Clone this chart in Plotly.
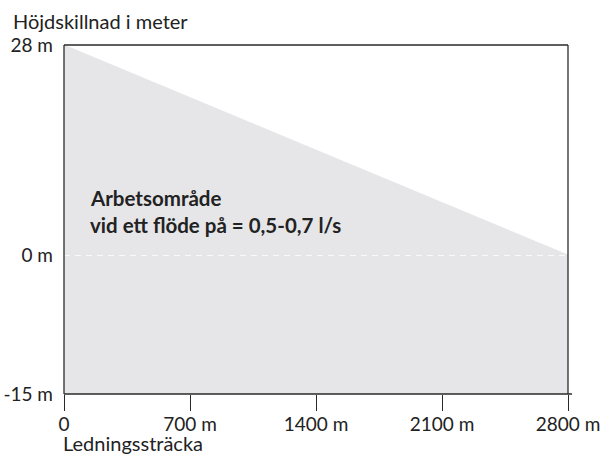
import plotly.graph_objects as go

# Data
x_start, x_end = 0, 2800
height_top = 28      # m, height difference at start
height_zero = 0      # m
height_bottom = -15  # m
x_ticks = [0, 700, 1400, 2100, 2800]
x_ticklabels = ["0", "700 m", "1400 m", "2100 m", "2800 m"]
y_top_ticks = [28]
y_top_labels = ["28 m"]
y_bottom_ticks = [-15, 0]
y_bottom_labels = ["-15 m", "0 m"]
area_label = ["Arbetsområde", "vid ett flöde på = 0,5-0,7 l/s"]
y_title = "Höjdskillnad i meter"
x_title = "Ledningssträcka"

FILL = "#e6e6e8"
AX = "#2a2a2a"
TXT = "#222222"
FONT = "Lato"

PLOT_W = 504.5
# bottom segment takes this fraction of plot height (scale break at 0 m)
split = 139 / 349

fig = go.Figure()

# Upper part: sloping working area (0 .. 28 m)
fig.add_trace(go.Scatter(
    x=[x_start, x_start, x_end, x_start],
    y=[height_zero, height_top, height_zero, height_zero],
    fill="toself", fillcolor=FILL, mode="lines", line=dict(width=0.8, color=FILL),
    xaxis="x", yaxis="y", hoverinfo="skip", showlegend=False))

# Lower part: rectangle (-15 .. 0 m)
fig.add_trace(go.Scatter(
    x=[x_start, x_start, x_end, x_end, x_start],
    y=[height_bottom, height_zero, height_zero, height_bottom, height_bottom],
    fill="toself", fillcolor=FILL, mode="lines", line=dict(width=0.8, color=FILL),
    xaxis="x", yaxis="y2", hoverinfo="skip", showlegend=False))

# Dashed zero line
fig.add_trace(go.Scatter(
    x=[x_start, x_end], y=[height_zero, height_zero],
    mode="lines", line=dict(color="white", width=1.5, dash="6px,5px"),
    xaxis="x", yaxis="y2", hoverinfo="skip", showlegend=False))

tickfont = dict(size=19, color=TXT, family=FONT)
fig.update_layout(
    width=602, height=455,
    margin=dict(l=63.5, r=34, t=45, b=61),
    paper_bgcolor="white", plot_bgcolor="white",
    font=dict(family=FONT, size=19, color=TXT),
    xaxis=dict(range=[x_start, x_end], anchor="y2", tickvals=x_ticks, ticktext=x_ticklabels,
               ticks="outside", ticklen=16, tickwidth=1.3, tickcolor=AX,
               ticklabelstandoff=-3,
               showline=False, showgrid=False, zeroline=False, automargin=False,
               tickfont=tickfont),
    yaxis=dict(domain=[split, 1], range=[height_zero, height_top], anchor="x",
               tickvals=y_top_ticks, ticktext=y_top_labels, ticks="",
               showline=False, showgrid=False, zeroline=False, ticklabelstandoff=10,
               automargin=False, tickfont=tickfont),
    yaxis2=dict(domain=[0, split], range=[height_bottom, height_zero], anchor="x",
                tickvals=y_bottom_ticks, ticktext=y_bottom_labels, ticks="",
                showline=False, showgrid=False, zeroline=False, ticklabelstandoff=10,
                automargin=False, tickfont=tickfont),
    shapes=[
        dict(type="line", xref="paper", yref="paper", x0=0, x1=1, y0=1, y1=1,
             line=dict(color=AX, width=1.3)),
        dict(type="line", xref="paper", yref="paper", x0=0, x1=0, y0=0, y1=1,
             line=dict(color=AX, width=1.3)),
        dict(type="line", xref="paper", yref="paper", x0=1, x1=1, y0=0, y1=1,
             line=dict(color=AX, width=1.3)),
        dict(type="line", xref="paper", yref="paper", x0=0, x1=1 + 4 / PLOT_W, y0=0, y1=0,
             line=dict(color=AX, width=1.3)),
    ],
)

boldfont = dict(size=20.5, color=TXT, family=FONT, weight="bold")
fig.add_annotation(text=area_label[0], x=136, y=7.6, xref="x", yref="y",
                   xanchor="left", yanchor="middle", showarrow=False, font=boldfont)
fig.add_annotation(text=area_label[1], x=136, y=4.0, xref="x", yref="y",
                   xanchor="left", yanchor="middle", showarrow=False, font=boldfont)

titlefont = dict(size=20, color=TXT, family=FONT)
fig.add_annotation(text=y_title, xref="paper", yref="paper", x=(10 - 63.5) / PLOT_W, y=1,
                   xanchor="left", yanchor="bottom", yshift=10, showarrow=False,
                   font=titlefont)
fig.add_annotation(text=x_title, xref="paper", yref="paper", x=0, y=0,
                   xanchor="left", yanchor="top", yshift=-35, xshift=-3, showarrow=False,
                   font=titlefont)

fig.write_html("out.html", config={"displayModeBar": False},
               post_script="document.body.style.margin='0px';document.body.style.overflow='hidden';")
